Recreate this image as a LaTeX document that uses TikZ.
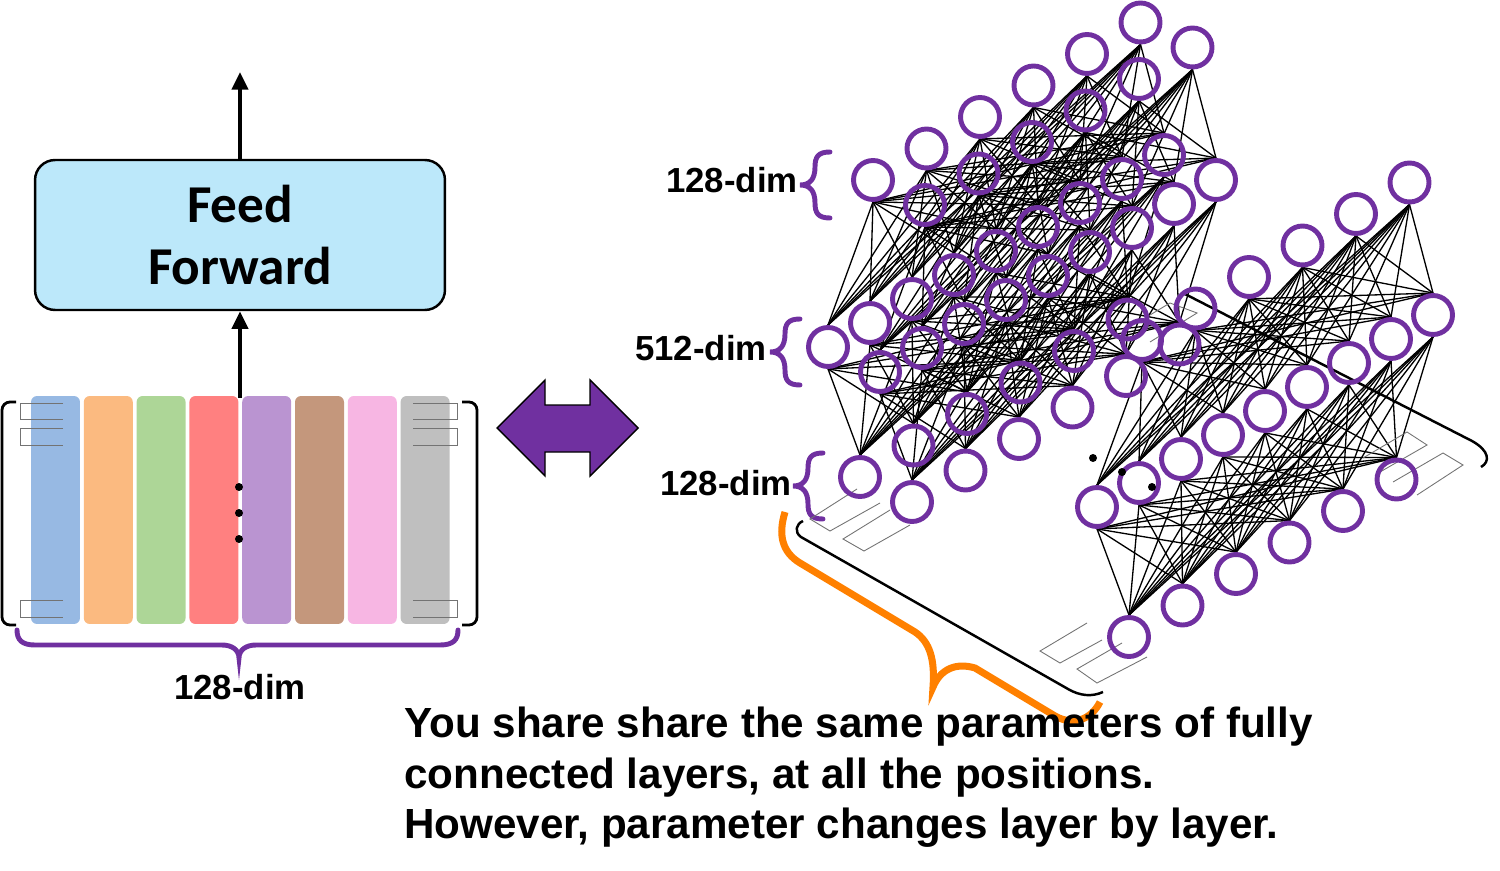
\documentclass[tikz,border=0pt]{standalone}
\usepackage{fontspec}
\setmainfont{Liberation Sans}
\newfontfamily\calfont{Carlito}
\usetikzlibrary{arrows.meta,backgrounds}
\definecolor{nnpurple}{RGB}{112,48,160}
\definecolor{ffblue}{RGB}{188,232,250}
\definecolor{cblue}{RGB}{151,185,227}
\definecolor{corange}{RGB}{251,186,128}
\definecolor{cgreen}{RGB}{173,214,151}
\definecolor{cred}{RGB}{255,128,128}
\definecolor{cpurple}{RGB}{186,148,209}
\definecolor{cbrown}{RGB}{196,151,124}
\definecolor{cpink}{RGB}{247,182,227}
\definecolor{cgray}{RGB}{191,191,191}
\definecolor{corng}{RGB}{255,128,0}
\tikzset{
  neuron/.style={circle, draw=nnpurple, line width=2.8pt, minimum size=0.78cm, inner sep=0pt},
  wire/.style={line width=0.75pt, black},
  barbox/.style={rounded corners=0.12cm, minimum width=0.98cm, minimum height=4.56cm, inner sep=0pt, draw=none},
  gmark/.style={line width=0.5pt, draw=black!55},
  pbr/.style={draw=nnpurple, line width=2.8pt, line cap=round},
  dimlabel/.style={font=\bfseries\fontsize{19.8}{24}\selectfont, inner sep=0pt},
  captext/.style={anchor=base west, inner sep=0pt, font=\bfseries\fontsize{24}{28}\selectfont},
  bigarrow/.style={line width=2.3pt, -{Triangle[length=10pt,width=9pt]}},
  lbr/.pic={\draw[pbr] (30,-33) .. controls (18,-33) and (15,-28) .. (15,-18) .. controls (15,-6) and (10,0) .. (0,0) .. controls (10,0) and (15,6) .. (15,18) .. controls (15,28) and (18,33) .. (30,33);}
}
\begin{document}
\begin{tikzpicture}[x=0.02cm,y=-0.02cm]
\useasboundingbox (0,0) rectangle (1500,871);

% ---------- left: token vectors ----------
\foreach \n/\cx/\col in {1/55.5/cblue,2/108.3/corange,3/161.1/cgreen,4/213.9/cred,5/266.7/cpurple,6/319.5/cbrown,7/372.3/cpink,8/425.1/cgray}
  \node[barbox, fill=\col] (bar\n) at (\cx,510) {};

\foreach \ya/\yb in {403/419,428/445,600/617} {
  \draw[gmark] (63,\ya) -- (20,\ya) -- (20,\yb) -- (63,\yb);
  \draw[gmark] (413,\ya) -- (457,\ya) -- (457,\yb) -- (413,\yb);
}
\draw[line width=1.6pt, rounded corners=0.16cm] (16,402) -- (2,402) -- (2,625) -- (16,625);
\draw[line width=1.6pt, rounded corners=0.16cm] (462,402) -- (477,402) -- (477,625) -- (462,625);
\foreach \yy in {487,513,539} \fill (239,\yy) circle (0.08cm);

\draw[pbr] (17,630) .. controls (17,640) and (22,645) .. (35,645) -- (222,645) .. controls (232,645) and (239,650) .. (239,658) .. controls (239,650) and (246,645) .. (256,645) -- (440,645) .. controls (453,645) and (458,640) .. (458,630);
\node[dimlabel, anchor=base] (ldim) at (240,699) {128-dim};

\node[draw, line width=1.4pt, fill=ffblue, rounded corners=0.4cm, minimum width=8.2cm, minimum height=3cm, align=center,
      font=\calfont\bfseries\fontsize{30.3}{35.7}\selectfont] (ff) at (240,235) {Feed\\Forward};
\coordinate (vin) at (240,398);
\coordinate (vout) at (240,72);
\draw[bigarrow] (vin) -- (ff.south);
\draw[bigarrow] (ff.north) -- (vout);

% ---------- double arrow ----------
\draw[fill=nnpurple, line width=0.8pt, line join=miter] (497,428) -- (545,380) -- (545,405) -- (590,405) -- (590,380) -- (638,428) -- (590,476) -- (590,452) -- (545,452) -- (545,476) -- cycle;

% ---------- labels ----------
\node[dimlabel, anchor=base east] (dtop) at (798,193) {128-dim};
\node[dimlabel, anchor=base east] (dmid) at (767,360) {512-dim};
\node[dimlabel, anchor=base east] (dbot) at (792,495) {128-dim};
\pic at (800,185) {lbr};
\pic at (770,352) {lbr};
\pic at (793,486) {lbr};

% ---------- gray marks and brackets ----------
\draw[gmark] (857,489) -- (810,519) -- (830,531) -- (880,503);
\draw[gmark] (890,510) -- (843,539) -- (864,551) -- (910,525);
\draw[gmark] (1087,623) -- (1040,651) -- (1060,663) -- (1102,640);
\draw[gmark] (1122,643) -- (1077,669) -- (1097,683) -- (1147,657);
\draw[gmark] (1363,458) -- (1407,432) -- (1427,445) -- (1380,472);
\draw[gmark] (1393,482) -- (1443,453) -- (1463,465) -- (1417,495);
\draw[gmark] (1150,315) -- (1170,303) -- (1197,313) -- (1150,342);

\draw[line width=1.4pt] (803,521) .. controls (796,524) and (794,532) .. (801,537) -- (1068,689) .. controls (1080,696) and (1092,697) .. (1103,692);
\draw[line width=1.4pt] (1183,293) -- (1472,441) .. controls (1490,451) and (1490,462) .. (1481,467);
\draw[draw=corng, line width=4pt] (785,512) .. controls (778,535) and (782,552) .. (800,563) -- (915,632) .. controls (930,642) and (935,660) .. (933,687) .. controls (940,670) and (955,662) .. (975,668) -- (1055,716) .. controls (1075,727) and (1092,718) .. (1100,702);

% ---------- networks ----------
\foreach \k/\ox/\oy in {1/0/0,2/52/25,3/269/160} {
  \foreach \i in {0,...,5} {
    \node[neuron] (c\k-t\i) at ({873+\ox+53.5*\i},{180+\oy-31.5*\i}) {};
    \node[neuron] (c\k-b\i) at ({860+\ox+53.5*\i},{477+\oy-31.5*\i}) {};
  }
  \foreach \j in {0,...,8}
    \node[neuron] (c\k-m\j) at ({828+\ox+42*\j},{347+\oy-24*\j}) {};
}
\begin{scope}[on background layer]
\foreach \k in {1,2,3} \foreach \i in {0,...,5} \foreach \j in {0,...,8} {
  \draw[wire] (c\k-t\i.south) -- (c\k-m\j.north);
  \draw[wire] (c\k-m\j.south) -- (c\k-b\i.north);
}
\end{scope}
\foreach \xx/\yy in {1093/458,1122/472,1152/487} \fill (\xx,\yy) circle (0.08cm);

% ---------- caption ----------
\node[captext] (cap1) at (404,737) {You share share the same parameters of fully};
\node[captext] (cap2) at (404,788) {connected layers, at all the positions.};
\node[captext] (cap3) at (404,838) {However, parameter changes layer by layer.};
\end{tikzpicture}
\end{document}
